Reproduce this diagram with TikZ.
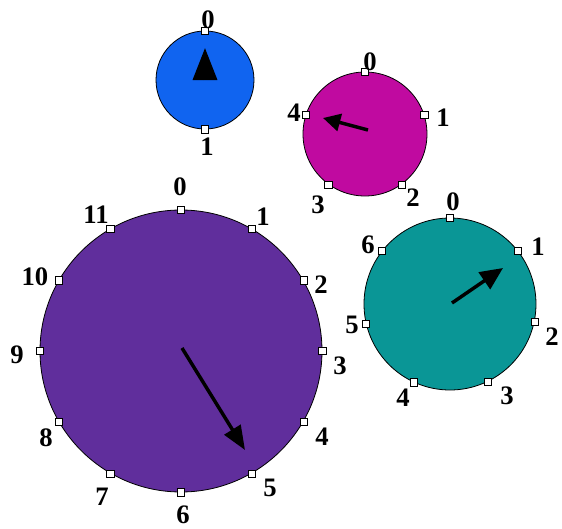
\documentclass[tikz,border=0pt]{standalone}
\usepackage{fontspec}
\setmainfont{Liberation Serif}
\usetikzlibrary{arrows.meta}
\definecolor{cblue}{RGB}{16,100,240}
\definecolor{cmag}{RGB}{192,10,160}
\definecolor{cteal}{RGB}{10,150,150}
\definecolor{cpurp}{RGB}{96,46,156}
\begin{document}
\begin{tikzpicture}[x=0.75pt,y=-0.75pt,
  dial/.style={circle,draw=black,line width=0.6pt,inner sep=0pt,minimum size=#1},
  tickbox/.style={rectangle,draw=black,fill=white,line width=0.5pt,inner sep=0pt,minimum size=5.4pt},
  num/.style={font=\fontsize{20}{20}\selectfont\bfseries,inner sep=0pt},
  hand/.style args={#1/#2}{line width=2.6pt,-{Triangle[length=#1,width=#2]}}
]
\useasboundingbox (0,0) rectangle (562,529);
% dials
\node[dial=73.5pt,fill=cblue] (B) at (205,80) {};
\node[dial=93pt,fill=cmag] (M) at (365,134) {};
\node[dial=129pt,fill=cteal] (T) at (450,304) {};
\node[dial=211.5pt,fill=cpurp] (P) at (181,351) {};
% ticks
\foreach \k in {0,1} \node[tickbox] (B\k) at (B.{90-\k*180}) {};
\foreach \k in {0,...,4} \node[tickbox] (M\k) at (M.{90-\k*72}) {};
\foreach \k in {0,...,6} \node[tickbox] (T\k) at (T.{90-\k*360/7}) {};
\foreach \k in {0,...,11} \node[tickbox] (P\k) at (P.{90-\k*30}) {};
% labels blue
\node[num] (lb0) at (208,20) {0};
\node[num] (lb1) at (207,147) {1};
% labels magenta
\node[num] (lm0) at (370,62) {0};
\node[num] (lm1) at (443,118) {1};
\node[num] (lm2) at (413,198) {2};
\node[num] (lm3) at (318,205) {3};
\node[num] (lm4) at (294,113) {4};
% labels teal
\node[num] (lt0) at (453,202) {0};
\node[num] (lt1) at (538,247) {1};
\node[num] (lt2) at (552,337) {2};
\node[num] (lt3) at (507,396) {3};
\node[num] (lt4) at (403,398) {4};
\node[num] (lt5) at (352,325) {5};
\node[num] (lt6) at (368,245) {6};
% labels purple
\node[num] (lp0) at (180,187) {0};
\node[num] (lp1) at (263,217) {1};
\node[num] (lp2) at (321,285) {2};
\node[num] (lp3) at (340,366) {3};
\node[num] (lp4) at (322,437) {4};
\node[num] (lp5) at (270,488) {5};
\node[num] (lp6) at (183,515) {6};
\node[num] (lp7) at (102,497) {7};
\node[num] (lp8) at (46,438) {8};
\node[num] (lp9) at (17,355) {9};
\node[num] (lp10) at (35,277) {10};
\node[num] (lp11) at (96,215) {11};
% hands
\coordinate (Bh) at (205,48);
\coordinate (Mh) at (323,118);
\coordinate (Ms) at (368,130);
\coordinate (Th) at (503,268);
\coordinate (Ts) at (452,303);
\coordinate (Ph) at (245,450);
\coordinate (Ps) at (182,348);
\draw[hand=24pt/18pt] (B.center) -- (Bh);
\draw[hand=13pt/13pt] (Ms) -- (Mh);
\draw[hand=17pt/15pt] (Ts) -- (Th);
\draw[hand=18pt/14pt] (Ps) -- (Ph);
\end{tikzpicture}
\end{document}
